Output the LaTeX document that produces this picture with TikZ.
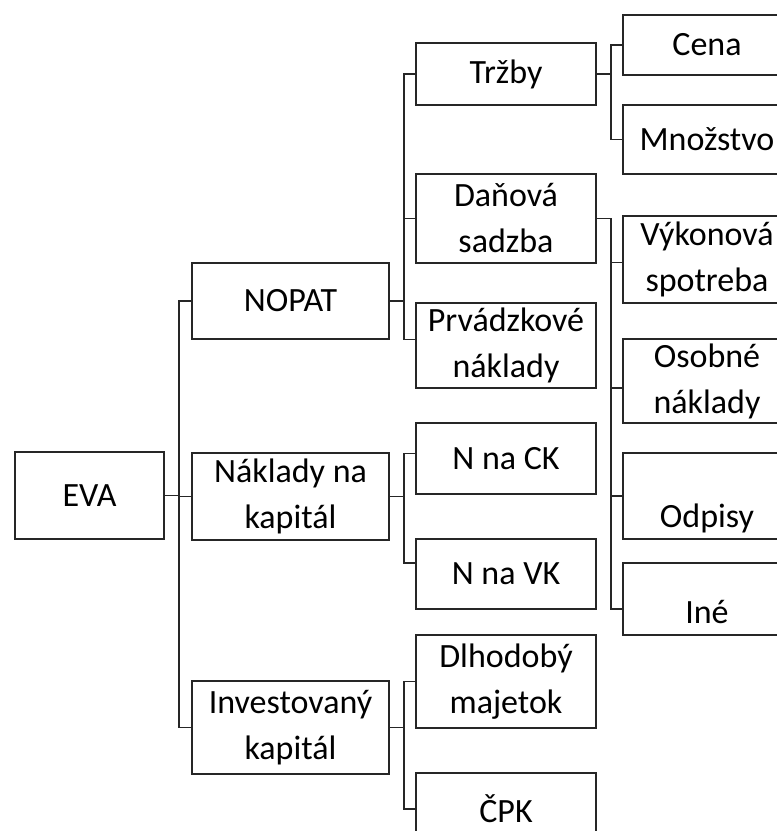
\documentclass[tikz,border=0pt]{standalone}
\usepackage{fontspec}
\setmainfont{Carlito}

\begin{document}
\begin{tikzpicture}[
  x=1pt, y=-1pt,
  box/.style={draw=black!85, line width=1.7pt, align=center, inner sep=0pt,
              font=\fontsize{34}{46}\selectfont},
  lvlone/.style={box, minimum width=149pt},
  lvltwo/.style={box, minimum width=197pt},
  lvlthree/.style={box, minimum width=180pt},
  lvlfour/.style={box, minimum width=168pt},
  lowtext/.style={text height=#1, text depth=0pt},
  link/.style={draw=black!85, line width=1.7pt}
]
  \useasboundingbox (0,0) rectangle (777,831);
  \clip (0,0) rectangle (777,831);

  \node[lvlone, minimum height=87pt] (eva) at (89.5,495.5) {EVA};

  \node[lvltwo, minimum height=76pt] (nopat) at (290.5,301) {NOPAT};
  \node[lvltwo, minimum height=87pt] (naklady) at (290.5,496.5) {Náklady na\\kapitál};
  \node[lvltwo, minimum height=93pt] (invest) at (290.5,727.5) {Investovaný\\kapitál};

  \node[lvlthree, minimum height=62pt] (trzby) at (506,74) {Tržby};
  \node[lvlthree, minimum height=89pt] (dan) at (506,218.5) {Daňová\\sadzba};
  \node[lvlthree, minimum height=85pt] (prevnakl) at (506,345.5) {Prvádzkové\\náklady};
  \node[lvlthree, minimum height=71pt] (nck) at (506,458.5) {N na CK};
  \node[lvlthree, minimum height=70pt] (nvk) at (506,574) {N na VK};
  \node[lvlthree, minimum height=93pt] (dlh) at (506,681.5) {Dlhodobý\\majetok};
  \node[lvlthree, minimum height=72pt] (cpk) at (506,809) {ČPK};

  \node[lvlfour, minimum height=60pt] (cena) at (707,45) {Cena};
  \node[lvlfour, minimum height=69pt] (mnoz) at (707,139.5) {Množstvo};
  \node[lvlfour, minimum height=87pt] (vykon) at (707,259.5) {Výkonová\\spotreba};
  \node[lvlfour, minimum height=84pt] (osob) at (707,381) {Osobné\\náklady};
  \node[lvlfour, minimum height=86pt, lowtext=62pt] (odpis) at (707,496) {Odpisy};
  \node[lvlfour, minimum height=72pt, lowtext=48pt] (ine) at (707,599) {Iné};

  \foreach \child/\dy in {nopat/0, naklady/0, invest/0}
    \draw[link] (eva.east) -- ++(14,0) |- ([yshift=\dy pt]\child.west);
  \foreach \child/\dy in {trzby/0, dan/0, prevnakl/6}
    \draw[link] (nopat.east) -- ++(14,0) |- ([yshift=\dy pt]\child.west);
  \foreach \child/\dy in {nck/5, nvk/11}
    \draw[link] (naklady.east) -- ++(14,0) |- ([yshift=\dy pt]\child.west);
  \foreach \child/\dy in {dlh/0, cpk/0}
    \draw[link] (invest.east) -- ++(14,0) |- ([yshift=\dy pt]\child.west);
  \foreach \child/\dy in {cena/0, mnoz/0}
    \draw[link] (trzby.east) -- ++(14,0) |- ([yshift=\dy pt]\child.west);
  \foreach \child/\dy in {vykon/-3, osob/-7, odpis/0, ine/-10}
    \draw[link] (dan.east) -- ++(14,0) |- ([yshift=\dy pt]\child.west);
\end{tikzpicture}
\end{document}
